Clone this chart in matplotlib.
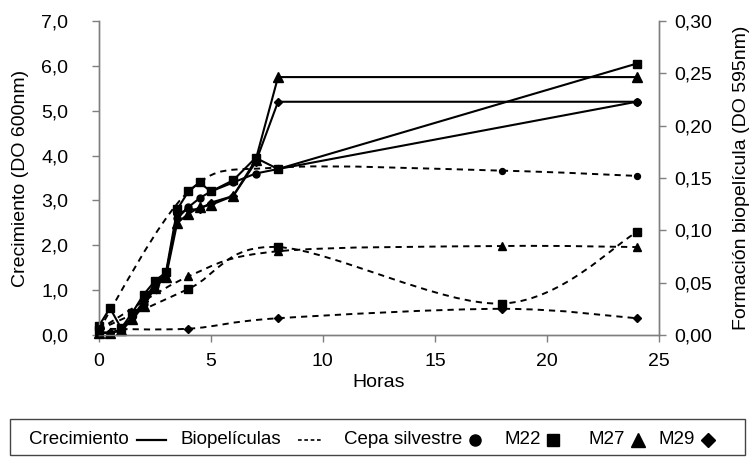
import matplotlib
matplotlib.use("Agg")
import matplotlib.pyplot as plt
from matplotlib.path import Path
from matplotlib.patches import PathPatch, Rectangle
from matplotlib.lines import Line2D

plt.rcParams["font.family"] = ["Liberation Sans", "DejaVu Sans"]
plt.rcParams["font.size"] = 14

# Crecimiento (DO 600nm), eje izquierdo
HORAS = [0, 0.5, 1, 1.5, 2, 2.5, 3, 3.5, 4, 4.5, 5, 6, 7, 8, 24]
CREC_SILVESTRE = [0.05, 0.05, 0.10, 0.40, 0.70, 1.10, 1.35, 2.60, 2.85, 3.05, 3.20, 3.40, 3.60, 3.70, 5.20]
CREC_M22 = [0.20, 0.60, 0.15, 0.50, 0.90, 1.20, 1.40, 2.80, 3.20, 3.40, 3.20, 3.45, 3.95, 3.70, 6.05]
CREC_M27 = [0.05, 0.05, 0.10, 0.35, 0.65, 1.05, 1.30, 2.50, 2.70, 2.85, 2.90, 3.10, 3.90, 5.75, 5.75]
CREC_M29 = [0.05, 0.05, 0.12, 0.40, 0.75, 1.15, 1.35, 2.70, 2.80, 2.80, 2.95, 3.10, 3.85, 5.20, 5.20]

# Formación biopelícula (DO 595nm), eje derecho
HORAS_BIO = [0, 4, 8, 18, 24]
BIO_SILVESTRE = [0.005, 0.137, 0.160, 0.157, 0.152]
BIO_M22 = [0.005, 0.044, 0.084, 0.030, 0.098]
BIO_M27 = [0.005, 0.056, 0.080, 0.085, 0.084]
BIO_M29 = [0.006, 0.006, 0.016, 0.025, 0.016]

X_TICKS = [0, 5, 10, 15, 20, 25]
Y_LEFT_TICKS = [0, 1, 2, 3, 4, 5, 6, 7]
Y_LEFT_LABELS = ["0,0", "1,0", "2,0", "3,0", "4,0", "5,0", "6,0", "7,0"]
Y_RIGHT_TICKS = [0, 0.05, 0.10, 0.15, 0.20, 0.25, 0.30]
Y_RIGHT_LABELS = ["0,00", "0,05", "0,10", "0,15", "0,20", "0,25", "0,30"]

AXIS = "#7f7f7f"
INK = "black"
DASH = (0, (3.2, 2.6))


def smooth_path(xs, ys):
    # curva suavizada tipo Excel (Bezier con puntos de control Catmull-Rom)
    pts = list(zip(xs, ys))
    n = len(pts)
    verts = [pts[0]]
    codes = [Path.MOVETO]
    for i in range(n - 1):
        p0 = pts[max(i - 1, 0)]
        p1 = pts[i]
        p2 = pts[i + 1]
        p3 = pts[min(i + 2, n - 1)]
        b1 = (p1[0] + (p2[0] - p0[0]) / 6, p1[1] + (p2[1] - p0[1]) / 6)
        b2 = (p2[0] - (p3[0] - p1[0]) / 6, p2[1] - (p3[1] - p1[1]) / 6)
        verts += [b1, b2, p2]
        codes += [Path.CURVE4] * 3
    return Path(verts, codes)


fig = plt.figure(figsize=(7.54, 4.57), dpi=100)
ax = fig.add_axes([0.131, 0.267, 0.743, 0.687])
ax2 = ax.twinx()

series = [
    (CREC_SILVESTRE, BIO_SILVESTRE, "o", 5),
    (CREC_M22, BIO_M22, "s", 6),
    (CREC_M27, BIO_M27, "^", 6.5),
    (CREC_M29, BIO_M29, "D", 4.5),
]

for crec, bio, mk, ms in series:
    ax.plot(HORAS, crec, color=INK, linewidth=1.5, marker=mk, markersize=ms,
            markerfacecolor=INK, markeredgecolor=INK, clip_on=False, zorder=4)
    patch = PathPatch(smooth_path(HORAS_BIO, bio), fill=False, edgecolor=INK,
                      linewidth=1.4, linestyle=DASH, zorder=3)
    ax2.add_patch(patch)
    ax2.plot(HORAS_BIO, bio, linestyle="none", marker=mk, markersize=ms * 0.85,
             markerfacecolor=INK, markeredgecolor=INK, clip_on=False, zorder=3)

ax.set_xlim(0, 25)
ax.set_ylim(0, 7)
ax2.set_ylim(0, 0.30)

ax.set_xticks(X_TICKS)
ax.set_yticks(Y_LEFT_TICKS)
ax.set_yticklabels(Y_LEFT_LABELS)
ax2.set_yticks(Y_RIGHT_TICKS)
ax2.set_yticklabels(Y_RIGHT_LABELS)

for a in (ax, ax2):
    a.spines["top"].set_visible(False)
    for s in ("left", "right", "bottom"):
        a.spines[s].set_color(AXIS)
        a.spines[s].set_linewidth(1.0)
    a.tick_params(color=AXIS, length=5, width=1.0, labelcolor=INK)

ax.tick_params(axis="y", pad=17)
ax.tick_params(axis="x", pad=8)
ax2.tick_params(axis="y", pad=6)

ax.set_xlabel("Horas", labelpad=3)
ax.set_ylabel("Crecimiento (DO 600nm)", labelpad=9)
ax2.set_ylabel("Formación biopelícula (DO 595nm)", labelpad=15)

# leyenda en recuadro inferior
W, H = 754, 457
fig.patches.append(Rectangle((10 / W, 2 / H), 735 / W, 36 / H,
                             transform=fig.transFigure, fill=False,
                             edgecolor="#444444", linewidth=1.0))
ly = 1 - 440 / H
words = [(29, "Crecimiento"), (180, "Biopelículas"), (344, "Cepa silvestre"),
         (505, "M22"), (589, "M27"), (659, "M29")]
for px, txt in words:
    fig.text(px / W, ly, txt, ha="left", va="center", fontsize=13.5, color=INK)

fig.lines.append(Line2D([137 / W, 166 / W], [ly, ly], transform=fig.transFigure,
                        color=INK, linewidth=1.6))
fig.lines.append(Line2D([298 / W, 322 / W], [ly, ly], transform=fig.transFigure,
                        color=INK, linewidth=1.2, linestyle=(0, (2.2, 1.6))))
glyphs = [(475, "o", 8), (553, "s", 8.5), (638, "^", 10), (708, "D", 7.5)]
for px, mk, ms in glyphs:
    fig.lines.append(Line2D([px / W], [ly], transform=fig.transFigure,
                            linestyle="none", marker=mk, markersize=ms,
                            markerfacecolor=INK, markeredgecolor=INK))

fig.savefig("out.png", dpi=100, facecolor="white")
